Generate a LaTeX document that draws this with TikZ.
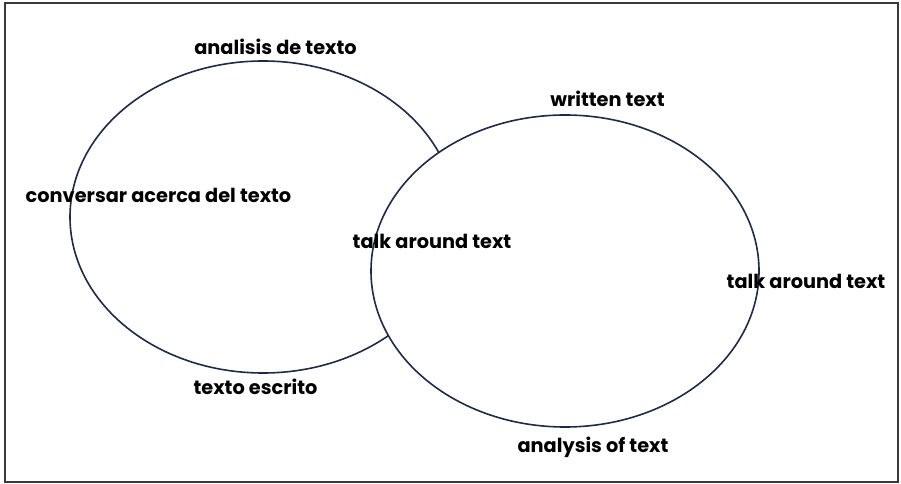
\documentclass[tikz,border=0pt]{standalone}
\usepackage{fontspec}
\setmainfont{Poppins}
\definecolor{ringcol}{HTML}{1E2B45}
\definecolor{framecol}{HTML}{3A3A3A}
\tikzset{
  lbl/.style={inner sep=0pt, anchor=base, font=\bfseries\fontsize{19.4}{22}\selectfont, text=black},
  ring/.style={draw=ringcol, line width=1.6bp},
}
\begin{document}
\begin{tikzpicture}[x=1bp,y=-1bp]
\useasboundingbox (0,0) rectangle (901,484);
\fill[white] (0,0) rectangle (901,484);
\draw[framecol, line width=1.5bp] (5,3) rectangle (898,482);
% left ellipse
\draw[ring] (263,217) ellipse [x radius=193, y radius=156];
% right ellipse, filled white so it covers the left one
\filldraw[ring, fill=white] (565,271) ellipse [x radius=194, y radius=156];
% labels
\node[lbl] (ana) at (275.5,55) {analisis de texto};
\node[lbl] (conv) at (158.5,203) {conversar acerca del texto};
\node[lbl] (talkm) at (432,249) {talk around text};
\node[lbl] (writ) at (607.5,107) {written text};
\node[lbl] (esc) at (255.5,394) {texto escrito};
\node[lbl] (talkr) at (806,289) {talk around text};
\node[lbl] (anal) at (593,452) {analysis of text};
\end{tikzpicture}
\end{document}
